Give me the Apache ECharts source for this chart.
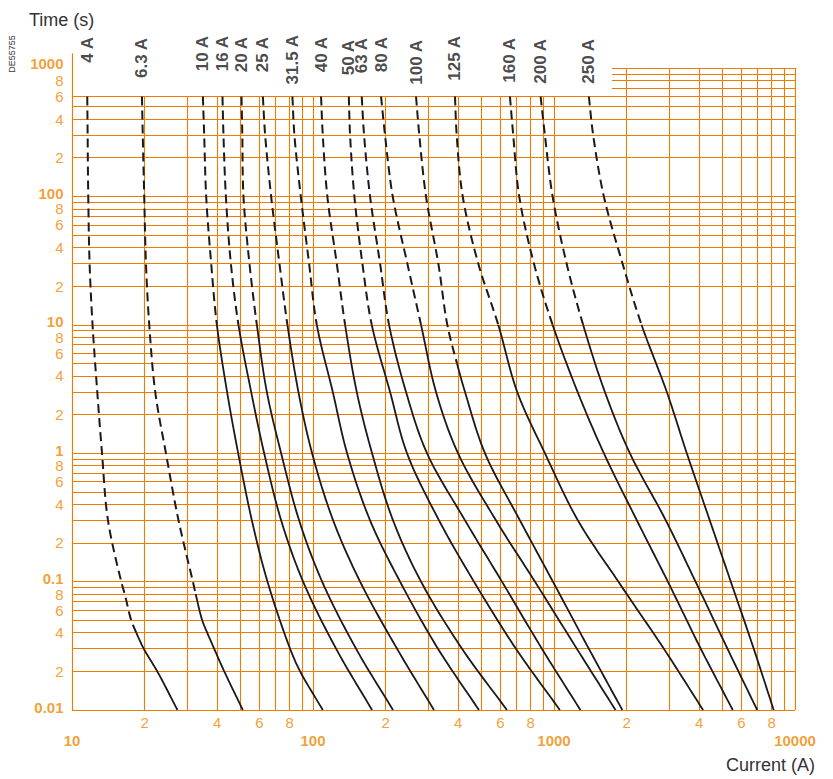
<!DOCTYPE html>
<html><head><meta charset="utf-8">
<script src="https://cdn.jsdelivr.net/npm/echarts@6/dist/echarts.min.js"></script>
<style>html,body{margin:0;padding:0;background:#fff}#c{width:833px;height:779px}</style>
</head><body><div id="c"></div>
<script>
// ---- data (current in A, time in s) ----
const RATINGS = ['4 A','6.3 A','10 A','16 A','20 A','25 A','31.5 A','40 A','50 A','63 A','80 A','100 A','125 A','160 A','200 A','250 A'];
const T_STD   = [600, 300, 100, 30, 10, 3, 1, 0.3, 0.1, 0.03, 0.01];
const T_SMALL = [600, 300, 100, 30, 10, 3, 1, 0.3, 0.1, 0.08, 0.05, 0.04, 0.03, 0.02, 0.01];
const T_10A   = [600, 300, 100, 30, 10, 3, 1, 0.3, 0.1, 0.03, 0.02, 0.01];
const T_100A  = [600, 300, 100, 30, 10, 5, 3, 1, 0.3, 0.1, 0.03, 0.01];

const I_4A   = [11.57, 11.61, 11.68, 11.83, 12.17, 12.73, 13.32, 14.10, 16.01, 16.55, 17.61, 18.48, 19.85, 22.58, 27.40];
const I_6A   = [19.51, 19.66, 19.94, 20.27, 20.92, 22.15, 24.53, 27.67, 31.74, 32.60, 34.69, 36.39, 38.90, 42.81, 51.17];
const I_10A  = [34.92, 35.36, 36.04, 37.80, 39.92, 44.0, 48.92, 55.76, 64.72, 80.36, 88.41, 109.8];
const I_16A  = [42.11, 42.51, 43.50, 45.63, 49.06, 55.39, 62.71, 73.75, 90.97, 124.7, 175.8];
const I_20A  = [50.5, 50.9, 51.46, 54.49, 58.48, 64.34, 73.75, 87.57, 109.1, 150.9, 214.8];
const I_25A  = [61.93, 63.31, 67.04, 72.56, 78.32, 86.99, 99.14, 121.2, 156.8, 223.2, 317.7];
const I_31A  = [82.14, 83.73, 89.00, 96.34, 103.7, 120.8, 138.5, 172.5, 229.7, 330.1, 488.2];
const I_40A  = [108.0, 109.8, 114.7, 125.5, 135.9, 151.9, 175.8, 214.8, 280.7, 415.3, 637.9];
const I_50A  = [140.8, 142.5, 148.5, 160.3, 175.3, 208.8, 245.5, 333.3, 465.4, 695.1, 1058];
const I_63A  = [159.3, 162.9, 172.5, 189.8, 206.8, 243.2, 297.2, 427.3, 608.2, 890.9, 1287];
const I_80A  = [191.6, 199.0, 214.2, 246.3, 280.7, 323.9, 399.6, 574.3, 833.4, 1244, 1800];
const I_100A = [267.6, 276.1, 294.4, 331.1, 360.8, 395.8, 427.3, 517.0, 722.1, 989.6, 1395, 1921];
const I_125A = [388.3, 394.7, 418.0, 485.0, 587.1, 703.8, 916.8, 1256, 1849, 2856, 4155];
const I_160A = [656.4, 677.4, 717.3, 825.5, 986.7, 1253, 1610, 2207, 2967, 4065, 5518];
const I_200A = [879.9, 916.8, 986.7, 1128, 1321, 1626, 2064, 2910, 3865, 5246, 6970];
const I_250A = [1395, 1454, 1610, 1925, 2308, 2938, 3556, 4429, 5414, 6742, 8159];

// time below which the curve is drawn solid (above: dashed)
const BREAKS = [0.04, 0.08, 10, 10, 10, 10, 10, 10, 10, 10, 10, 5, 10, 10, 10, 10];

// ---- ticks / grid ----
const X_DECADES = [10, 100, 1000];
const Y_DECADES = [0.01, 0.1, 1, 10, 100];
const MULTS = [1, 2, 3, 4, 5, 6, 7, 8, 9];
const LABEL_DIGITS = [2, 4, 6, 8];
const X_DECADE_LABELS = ['10', '100', '1000', '10000'];
const Y_DECADE_LABELS = ['0.01', '0.1', '1', '10', '100', '1000'];
const X_MIN = 10, X_MAX = 10000, Y_MIN = 0.01, Y_MAX = 1000;
const Y_LEFT_TOP = 600;      // grid top on the left part
const X_UPPER_START = 1740;  // upper band (700..1000 s) starts here
const X_UPPER_VLINE = 2000;  // vertical lines from here reach 1000 s
const LEFT_BORDER_TOP = 1300;

const CURVES = [
  [T_SMALL, I_4A], [T_SMALL, I_6A], [T_10A, I_10A], [T_STD, I_16A], [T_STD, I_20A],
  [T_STD, I_25A], [T_STD, I_31A], [T_STD, I_40A], [T_STD, I_50A], [T_STD, I_63A],
  [T_STD, I_80A], [T_100A, I_100A], [T_STD, I_125A], [T_STD, I_160A], [T_STD, I_200A], [T_STD, I_250A]
];

// style: horizontal pixel nudges of the rating labels
const LABEL_DX = [-1, -2, 0, 0, -1, -1, 1, -1, -4, -2, -1, -4, 0, -2, -3, -3];

const ORANGE = '#ec7d00';
const LABEL_ORANGE = '#f08700';
const INK = '#1a1a1a';
const FONT = 'Liberation Sans, Arial, sans-serif';

// grid segments
const xGrid = [];
X_DECADES.forEach(d => MULTS.forEach(m => xGrid.push(d * m)));
xGrid.push(X_MAX);
const yGrid = [];
Y_DECADES.forEach(d => MULTS.forEach(m => yGrid.push(+(d * m).toPrecision(6))));
yGrid.push(Y_MAX);

const segs = [];
xGrid.forEach(v => {
  let top = v >= X_UPPER_VLINE ? Y_MAX : Y_LEFT_TOP;
  if (v === X_MIN) top = LEFT_BORDER_TOP;
  segs.push({coords: [[v, Y_MIN], [v, top]]});
});
yGrid.forEach(v => {
  if (v <= Y_LEFT_TOP) segs.push({coords: [[X_MIN, v], [X_MAX, v]]});
  else segs.push({coords: [[X_UPPER_START, v], [X_MAX, v]]});
});

// centripetal Catmull-Rom through pixel points, split at break index
function spline(P, b) {
  const n = P.length;
  const ext = [[2 * P[0][0] - P[1][0], 2 * P[0][1] - P[1][1]]].concat(P,
    [[2 * P[n - 1][0] - P[n - 2][0], 2 * P[n - 1][1] - P[n - 2][1]]]);
  const dashed = [P[0].slice()], solid = [];
  const lerp = (a, c, ta, tc, t) => {
    const w = (tc - ta) === 0 ? 0 : (t - ta) / (tc - ta);
    return [a[0] + (c[0] - a[0]) * w, a[1] + (c[1] - a[1]) * w];
  };
  for (let i = 0; i < n - 1; i++) {
    const p0 = ext[i], p1 = ext[i + 1], p2 = ext[i + 2], p3 = ext[i + 3];
    const d = (a, c) => Math.pow(Math.hypot(c[0] - a[0], c[1] - a[1]) || 1e-6, 0.5);
    const t0 = 0, t1 = t0 + d(p0, p1), t2 = t1 + d(p1, p2), t3 = t2 + d(p2, p3);
    const out = i < b ? dashed : solid;
    if (i === b) out.push(P[b].slice());
    const steps = 16;
    for (let s = 1; s <= steps; s++) {
      const t = t1 + (t2 - t1) * s / steps;
      const A1 = lerp(p0, p1, t0, t1, t), A2 = lerp(p1, p2, t1, t2, t), A3 = lerp(p2, p3, t2, t3, t);
      const B1 = lerp(A1, A2, t0, t2, t), B2 = lerp(A2, A3, t1, t3, t);
      out.push(lerp(B1, B2, t1, t2, t));
    }
  }
  return {dashed, solid};
}

const series = [];
series.push({
  type: 'lines', coordinateSystem: 'cartesian2d', data: segs, silent: true, z: 1, clip: false,
  lineStyle: {color: ORANGE, width: 1.1, opacity: 1, curveness: 0}
});

series.push({
  type: 'custom', coordinateSystem: 'cartesian2d', silent: true, z: 5,
  dimensions: ['x', 'y', 'k'], encode: {x: 0, y: 1},
  data: CURVES.map((c, k) => [X_MIN, Y_MIN, k]),
  renderItem: function (params, api) {
    const k = api.value(2);
    const c = CURVES[k];
    const P = c[0].map((t, j) => api.coord([c[1][j], t]));
    const b = c[0].indexOf(BREAKS[k]);
    const sp = spline(P, b);
    return {type: 'group', children: [
      {type: 'polyline', shape: {points: sp.dashed},
        style: {stroke: INK, lineWidth: 2, lineDash: [9, 5], fill: 'none'}},
      {type: 'polyline', shape: {points: sp.solid},
        style: {stroke: INK, lineWidth: 1.8, fill: 'none'}}
    ]};
  }
});

// curve rating labels (at each curve's top point)
series.push({
  type: 'scatter', silent: true, symbolSize: 1, itemStyle: {color: 'rgba(0,0,0,0)'}, z: 6,
  data: CURVES.map((c, k) => ({value: [c[1][0], c[0][0]],
    label: {formatter: RATINGS[k], offset: [LABEL_DX[k], 0]}})),
  label: {show: true, position: 'top', distance: 60, rotate: 90, align: 'right', verticalAlign: 'middle',
    color: INK, fontSize: 17, fontWeight: 'bold', fontFamily: FONT}
});

// y-axis labels
const yLab = [];
Y_DECADE_LABELS.forEach((txt, k) => {
  const v = Math.pow(10, k - 2);
  yLab.push({value: [X_MIN, v], label: {formatter: txt, fontWeight: 'bold', offset: [0, k === 5 ? -5 : -3]}});
});
Y_DECADES.forEach(d => LABEL_DIGITS.forEach(m => {
  yLab.push({value: [X_MIN, +(d * m).toPrecision(6)], label: {formatter: String(m)}});
}));
series.push({
  type: 'scatter', silent: true, symbolSize: 1, itemStyle: {color: 'rgba(0,0,0,0)'}, z: 6, data: yLab,
  label: {show: true, position: 'left', distance: 8, color: LABEL_ORANGE, fontSize: 15, fontFamily: FONT}
});

// x-axis labels
const xLab = [];
X_DECADES.forEach(d => LABEL_DIGITS.forEach(m => {
  xLab.push({value: [d * m, Y_MIN], label: {formatter: String(m)}});
}));
X_DECADE_LABELS.forEach((txt, k) => {
  xLab.push({value: [Math.pow(10, k + 1), Y_MIN], label: {formatter: txt, fontWeight: 'bold', distance: 22}});
});
series.push({
  type: 'scatter', silent: true, symbolSize: 1, itemStyle: {color: 'rgba(0,0,0,0)'}, z: 6, data: xLab,
  label: {show: true, position: 'bottom', distance: 4, color: LABEL_ORANGE, fontSize: 15, fontFamily: FONT}
});

const chart = echarts.init(document.getElementById('c'), null, {renderer: 'svg', width: 833, height: 779});
chart.setOption({
  animation: false,
  backgroundColor: '#fff',
  grid: {left: 72, top: 68, width: 723, height: 642, containLabel: false},
  xAxis: {type: 'log', logBase: 10, min: X_MIN, max: X_MAX,
    axisLine: {show: false}, axisTick: {show: false}, axisLabel: {show: false}, splitLine: {show: false}},
  yAxis: {type: 'log', logBase: 10, min: Y_MIN, max: Y_MAX,
    axisLine: {show: false}, axisTick: {show: false}, axisLabel: {show: false}, splitLine: {show: false}},
  title: [
    {text: 'Time (s)', left: 24, top: 6, textStyle: {color: '#333', fontSize: 18, fontWeight: 'normal', fontFamily: FONT}},
    {text: 'Current (A)', right: 13, top: 751, textStyle: {color: '#333', fontSize: 18, fontWeight: 'normal', fontFamily: FONT}}
  ],
  graphic: [
    {type: 'text', x: 12, y: 54, rotation: Math.PI / 2,
      style: {text: 'DE55755', fill: '#333', fontSize: 9, fontFamily: FONT, align: 'center', verticalAlign: 'middle'}}
  ],
  series: series
});
</script>
</body></html>
